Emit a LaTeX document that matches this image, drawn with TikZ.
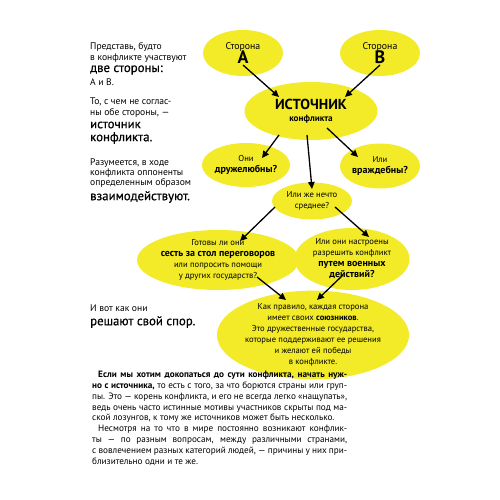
\documentclass[tikz,border=0pt]{standalone}
\usepackage{fontspec}
\setmainfont{PT Sans}
\newfontfamily\medfont[FakeBold=0.6]{PT Sans}
\usetikzlibrary{arrows.meta,shapes.geometric}
\definecolor{ell}{RGB}{243,235,40}
\begin{document}
\begin{tikzpicture}[x=1pt,y=-1pt,
  bub/.style={ellipse, fill=ell, inner sep=0pt, align=center, font=\fontsize{8.6}{11}\selectfont},
  arr/.style={line width=1.3pt, -{Triangle[length=7pt,width=6.5pt]}},
  lt/.style={anchor=west, inner sep=0pt, font=\fontsize{9.6}{10}\selectfont},
  lb/.style={anchor=west, inner sep=0pt, font=\medfont\fontsize{12.8}{14}\selectfont}]
\useasboundingbox (0,0) rectangle (500,500);
\fill[white] (0,0) rectangle (500,500);
% ellipses
\node[bub, minimum width=80pt, minimum height=46pt] (A) at (243,53)
  {{\fontsize{9.8}{12}\selectfont Сторона}\\[-1pt]{\fontsize{18}{16}\selectfont\bfseries A}};
\node[bub, minimum width=80pt, minimum height=46pt] (B) at (380,53)
  {{\fontsize{9.8}{12}\selectfont Сторона}\\[-1pt]{\fontsize{18}{16}\selectfont\bfseries B}};
\node[bub, minimum width=133pt, minimum height=58pt] (src) at (311,111)
  {{\fontsize{14.5}{16}\selectfont\bfseries ИСТОЧНИК}\\[1pt]{\fontsize{9.2}{11}\selectfont\bfseries конфликта}};
\node[bub, minimum width=82pt, minimum height=44pt] (fr) at (246,165)
  {Они\\{\fontsize{10}{11}\selectfont\bfseries дружелюбны?}};
\node[bub, minimum width=80pt, minimum height=45pt] (en) at (380,166)
  {Или\\{\fontsize{10}{11}\selectfont\bfseries враждебны?}};
\node[bub, minimum width=80pt, minimum height=37pt] (mid) at (312,201)
  {Или же нечто\\среднее?};
\node[bub, minimum width=132pt, minimum height=60pt] (neg) at (218,260)
  {Готовы ли они\\{\fontsize{10}{11}\selectfont\bfseries сесть за стол переговоров}\\или попросить помощи\\у других государств?};
\node[bub, minimum width=115pt, minimum height=62pt] (war) at (352,259)
  {Или они настроены\\разрешить конфликт\\{\fontsize{10}{11}\selectfont\bfseries путем военных}\\{\fontsize{10}{11}\selectfont\bfseries действий?}};
\node[bub, minimum width=165pt, minimum height=78pt] (ally) at (313,335)
  {Как правило, каждая сторона\\имеет своих {\bfseries союзников}.\\Это дружественные государства,\\которые поддерживают ее решения\\и желают ей победы\\в конфликте.};
% arrow end points
\coordinate (a1) at (243,65); \coordinate (a2) at (279,97);
\coordinate (b1) at (380,65); \coordinate (b2) at (345,97);
\coordinate (s1) at (279,135); \coordinate (s2) at (262,158);
\coordinate (s3) at (327,128); \coordinate (s4) at (358,157);
\coordinate (s5) at (307,135); \coordinate (s6) at (312,189);
\coordinate (m1) at (275,207); \coordinate (m2) at (240,241);
\coordinate (m3) at (335,207); \coordinate (m4) at (369,237);
\coordinate (n1) at (257,277); \coordinate (n2) at (286,300);
\coordinate (w1) at (343,275); \coordinate (w2) at (317,300);
\draw[arr] (a1) -- (a2);
\draw[arr] (b1) -- (b2);
\draw[arr] (s1) -- (s2);
\draw[arr] (s3) -- (s4);
\draw[arr] (s5) -- (s6);
\draw[arr] (m1) -- (m2);
\draw[arr] (m3) -- (m4);
\draw[arr] (n1) -- (n2);
\draw[arr] (w1) -- (w2);
% left column
\node[lt] (t1) at (90,47) {Представь, будто};
\node[lt] (t2) at (90,58) {в конфликте участвуют};
\node[lb] (t3) at (90,70) {две стороны:};
\node[lt] (t4) at (90,82) {А и В.};
\node[lt] (t5) at (90,102) {То, с чем не соглас-};
\node[lt] (t6) at (90,113) {ны обе стороны, —};
\node[lb] (t7) at (90,125) {источник};
\node[lb] (t8) at (90,138) {конфликта.};
\node[lt] (t9) at (90,163) {Разумеется, в ходе};
\node[lt] (t10) at (90,173) {конфликта оппоненты};
\node[lt] (t11) at (90,183) {определенным образом};
\node[lb] (t12) at (90,197) {взаимодействуют.};
\node[lt] (t13) at (90,308) {И вот как они};
\node[lb] (t14) at (90,322) {решают свой спор.};
% bottom paragraph
\node[anchor=north west, inner sep=0pt, font=\fontsize{9.2}{10.8}\selectfont] (para) at (92,371) {\parbox{255pt}{%
\hbox to 255pt{\hspace*{6pt}\bfseries Если мы хотим докопаться до сути конфликта, начать нуж-}
\hbox to 255pt{\textbf{но с источника,} то есть с того, за что борются страны или груп-}
\hbox to 255pt{пы. Это — корень конфликта, и его не всегда легко «нащупать»,}
\hbox to 255pt{ведь очень часто истинные мотивы участников скрыты под ма-}
\hbox{ской лозунгов, к тому же источников может быть несколько.}
\hbox to 255pt{\hspace*{6pt}Несмотря на то что в мире постоянно возникают конфлик-}
\hbox to 255pt{ты — по разным вопросам, между различными странами,}
\hbox to 255pt{с вовлечением разных категорий людей, — причины у них при-}
\hbox{близительно одни и те же.}}};
\end{tikzpicture}
\end{document}
